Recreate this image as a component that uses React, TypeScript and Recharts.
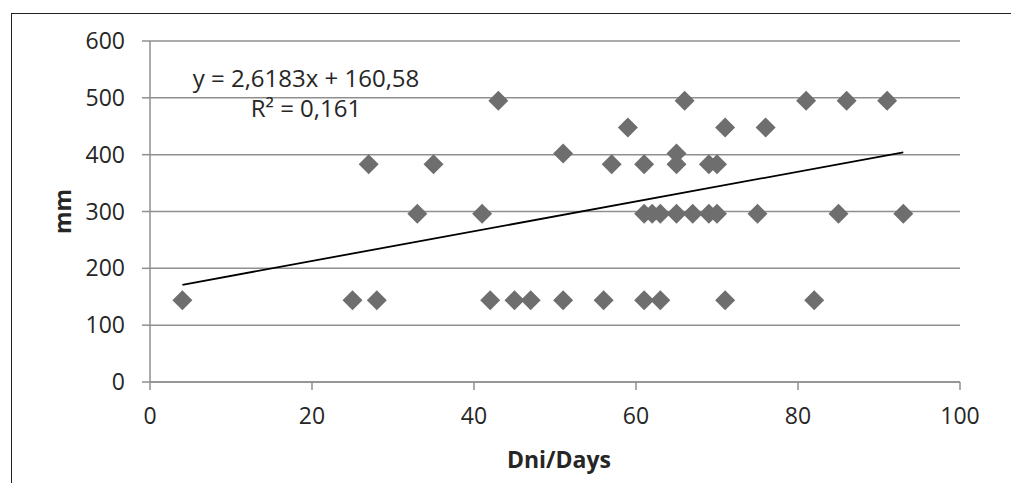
import React from "react";
import {
  CartesianGrid,
  Customized,
  Scatter,
  ScatterChart,
  XAxis,
  YAxis,
} from "recharts";

const days = [
  4, 25, 27, 28, 33, 35, 41, 42, 43, 45, 47, 51, 51, 56, 57, 59, 61, 61, 61, 62,
  63, 63, 65, 65, 65, 66, 67, 69, 69, 70, 70, 71, 71, 75, 76, 81, 82, 85, 86, 91,
  93,
];
const mm = [
  144, 144, 383, 144, 296, 383, 296, 144, 495, 144, 144, 402, 144, 144, 383, 448,
  383, 296, 144, 296, 296, 144, 402, 383, 296, 495, 296, 383, 296, 383, 296, 448,
  144, 296, 448, 495, 144, 296, 495, 495, 296,
];

// linear trend line end points
const trendDays = [4, 93];
const trendMm = [171.05, 404.08];

const xTicks = [0, 20, 40, 60, 80, 100];
const yTicks = [0, 100, 200, 300, 400, 500, 600];

const equationText = "y = 2,6183x + 160,58";
const rSquaredText = "R² = 0,161";
const xTitle = "Dni/Days";
const yTitle = "mm";

const FONT = '"Open Sans", "Noto Sans", sans-serif';
const GREY = "#8f8f8f";
const TEXT = "#262626";

const points = days.map((d, i) => ({ x: d, y: mm[i] }));
const trend = trendDays.map((d, i) => ({ x: d, y: trendMm[i] }));

const Diamond = (props: any) => {
  const { cx, cy } = props;
  if (cx == null || cy == null) return <g />;
  const r = 10;
  return (
    <path
      d={`M${cx},${cy - r}L${cx + r},${cy}L${cx},${cy + r}L${cx - r},${cy}Z`}
      fill="#6e6e6e"
    />
  );
};

const YTitle = (props: any) => {
  const vb = props.viewBox;
  const cy = vb.y + vb.height / 2;
  return (
    <text
      transform={`translate(58.5, ${cy}) rotate(-90)`}
      textAnchor="middle"
      fontFamily={FONT}
      fontWeight="bold"
      fontSize={23}
      fill={TEXT}
    >
      {yTitle}
    </text>
  );
};

const XTitle = (props: any) => {
  const vb = props.viewBox;
  return (
    <text
      x={vb.x + vb.width / 2 + 4}
      y={vb.y + 86}
      textAnchor="middle"
      fontFamily={FONT}
      fontWeight="bold"
      fontSize={23}
      fill={TEXT}
    >
      {xTitle}
    </text>
  );
};

const Equation = () => (
  <g fontFamily={FONT} fontSize={24} fill={TEXT} textAnchor="middle">
    <text x={294} y={73}>
      {equationText}
    </text>
    <text x={294} y={103}>
      {rSquaredText}
    </text>
  </g>
);

export default function App() {
  return (
    <div
      style={{
        position: "absolute",
        left: 11,
        top: 13,
        width: 999,
        height: 469,
        borderTop: "1px solid #222",
        borderLeft: "1px solid #222",
        background: "#fff",
      }}
    >
      <ScatterChart
        width={999}
        height={469}
        margin={{ top: 27, right: 51, bottom: 0, left: 0 }}
      >
        <CartesianGrid vertical={false} stroke={GREY} strokeWidth={1.5} />
        <XAxis
          type="number"
          dataKey="x"
          domain={[0, 100]}
          ticks={xTicks}
          height={101}
          tickSize={8}
          tickMargin={18}
          axisLine={{ stroke: GREY, strokeWidth: 1.5 }}
          tickLine={{ stroke: GREY, strokeWidth: 1.5 }}
          tick={{ fill: TEXT, fontSize: 23, fontFamily: FONT }}
          label={{ content: XTitle }}
        />
        <YAxis
          type="number"
          dataKey="y"
          domain={[0, 600]}
          ticks={yTicks}
          width={138}
          tickSize={8}
          tickMargin={17}
          axisLine={{ stroke: GREY, strokeWidth: 1.5 }}
          tickLine={{ stroke: GREY, strokeWidth: 1.5 }}
          tick={{ fill: TEXT, fontSize: 23, fontFamily: FONT }}
          label={{ content: YTitle }}
        />
        <Scatter
          data={points}
          shape={Diamond}
          fill="#6e6e6e"
          isAnimationActive={false}
        />
        <Scatter
          data={trend}
          fill="#000"
          line={{ stroke: "#000", strokeWidth: 1.8 }}
          shape={() => <g />}
          isAnimationActive={false}
        />
        <Customized component={Equation} />
      </ScatterChart>
    </div>
  );
}
